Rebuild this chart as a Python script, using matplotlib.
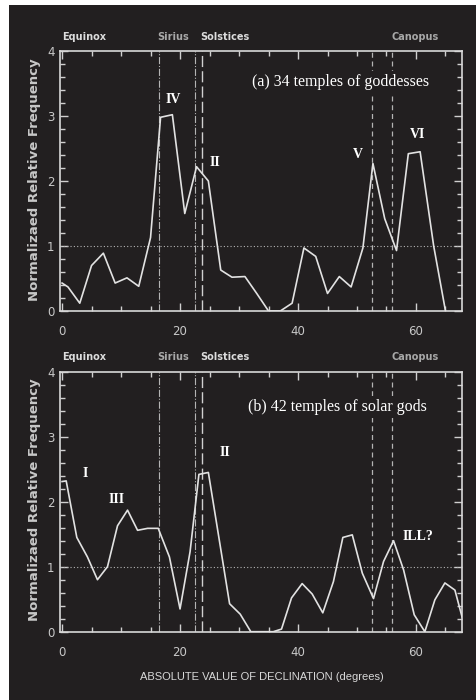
import matplotlib
matplotlib.use("Agg")
import matplotlib.pyplot as plt
from matplotlib.patches import Rectangle
from matplotlib.ticker import MultipleLocator

# (a) 34 temples of goddesses
decl_a = [0, 1, 3, 5, 7, 9, 11, 13, 15, 16.7, 18.7, 20.8, 22.8, 24.8, 26.9, 28.8,
          31, 33, 35, 37, 39, 41, 43, 45, 47, 49, 51, 52.7, 54.7, 56.7, 58.7,
          60.7, 63, 65]
freq_a = [0.43, 0.37, 0.12, 0.70, 0.89, 0.43, 0.51, 0.38, 1.13, 2.98, 3.02, 1.50,
          2.22, 2.00, 0.63, 0.52, 0.53, 0.27, 0.0, 0.0, 0.12, 0.97, 0.84, 0.27,
          0.53, 0.37, 0.97, 2.27, 1.42, 0.93, 2.42, 2.45, 1.0, 0.0]

# (b) 42 temples of solar gods
decl_b = [0, 0.7, 2.5, 4.3, 6.0, 7.7, 9.4, 11.1, 12.8, 14.5, 16.3, 18.2, 20.0,
          21.7, 23.2, 24.8, 28.4, 30.2, 32.0, 35.8, 37.2, 38.9, 40.7, 42.4, 44.2,
          46.0, 47.6, 49.2, 50.9, 52.8, 54.5, 56.2, 57.9, 59.7, 61.5, 63.2, 64.9,
          66.6, 67.8]
freq_b = [2.31, 2.32, 1.45, 1.15, 0.80, 1.0, 1.63, 1.87, 1.56, 1.59, 1.59, 1.15,
          0.35, 1.23, 2.42, 2.45, 0.43, 0.27, 0.0, 0.0, 0.04, 0.52, 0.74, 0.58,
          0.29, 0.77, 1.45, 1.49, 0.90, 0.51, 1.08, 1.40, 0.95, 0.26, 0.0, 0.49,
          0.75, 0.64, 0.23]

# reference declinations
sirius = 16.4
sirius2 = 22.5
solstice = 23.8
canopus = [52.6, 56.0]

top_labels = [("Equinox", 0, "#dcdcdc"), ("Sirius", 16.2, "#a8a8a8"),
              ("Solstices", 23.5, "#dcdcdc"), ("Canopus", 55.8, "#a8a8a8")]

bg = "#221f20"
fg = "#e2e2e2"
grey = "#b4b4b4"

fig = plt.figure(figsize=(4.76, 7.0), dpi=100, facecolor="white")
fig.patches.append(Rectangle((9 / 476, 0), 1 - 9 / 476, 1 - 5 / 700,
                             transform=fig.transFigure, facecolor=bg,
                             edgecolor="none", zorder=-10))

ax1 = fig.add_axes([60 / 476, 1 - 311 / 700, 402 / 476, 260 / 700])
ax2 = fig.add_axes([60 / 476, 1 - 631.7 / 700, 402 / 476, 260 / 700])


def style(ax, x, y, title, numerals):
    ax.set_facecolor(bg)
    ax.plot(x, y, color=fg, lw=1.2, zorder=3)
    ax.axhline(1, color=grey, ls=(0, (1, 2)), lw=0.8)
    ax.axvline(sirius, color=grey, ls="-.", lw=0.8)
    ax.axvline(sirius2, color=grey, ls="-.", lw=0.8)
    ax.axvline(solstice, color="#d0d0d0", ls=(0, (8, 3)), lw=1.0)
    for c in canopus:
        ax.axvline(c, color=grey, ls=(0, (4, 3)), lw=0.9)
    ax.set_xlim(-0.35, 67.8)
    ax.set_ylim(0, 4)
    ax.xaxis.set_major_locator(MultipleLocator(20))
    ax.xaxis.set_minor_locator(MultipleLocator(5))
    ax.yaxis.set_major_locator(MultipleLocator(1))
    ax.yaxis.set_minor_locator(MultipleLocator(0.2))
    ax.tick_params(which="both", direction="in", top=True, right=True,
                   color="#d0d0d0", width=1.0, labelcolor="#c8c8c8",
                   labelsize=8.5)
    ax.tick_params(which="major", length=6)
    ax.tick_params(which="minor", length=3.5)
    ax.tick_params(axis="x", which="major", pad=10)
    ax.tick_params(axis="y", which="major", pad=4)
    for s in ax.spines.values():
        s.set_color("#d8d8d8")
        s.set_linewidth(1.2)
    for lab, xpos, col in top_labels:
        ax.text(xpos, 4.22, lab, color=col, fontsize=7, fontweight="bold",
                ha="left", va="center", clip_on=False)
    ax.text(title[1], title[2], title[0], color="white", fontsize=11.5,
            family="Liberation Serif", ha="left", va="center", zorder=4,
            bbox=dict(facecolor=bg, edgecolor="none", pad=2))
    for txt, xpos, ypos, ha in numerals:
        ax.text(xpos, ypos, txt, color="white", fontsize=10,
                family="Liberation Serif", fontweight="bold", ha=ha,
                va="center", zorder=4)


style(ax1, decl_a, freq_a, ("(a) 34 temples of goddesses", 32.2, 3.52),
      [("IV", 18.8, 3.25, "center"), ("II", 25.9, 2.29, "center"),
       ("V", 50.2, 2.4, "center"), ("VI", 60.2, 2.71, "center")])
style(ax2, decl_b, freq_b, ("(b) 42 temples of solar gods", 31.5, 3.46),
      [("I", 3.9, 2.43, "center"), ("III", 9.2, 2.03, "center"),
       ("II", 27.6, 2.75, "center"), ("ILL?", 57.8, 1.46, "left")])

for yc in (1 - 180 / 700, 1 - 500 / 700):
    fig.text(35 / 476, yc, "Normalizaed Relative Frequency", rotation=90,
             color="#c8c8c8", fontsize=9.5, fontweight="bold",
             ha="center", va="center")

fig.text(262 / 476, 1 - 677 / 700, "ABSOLUTE VALUE OF DECLINATION (degrees)",
         color="#d8d8d8", fontsize=8, family="Liberation Sans",
         ha="center", va="center")

fig.savefig("out.png", dpi=100, facecolor="white")
